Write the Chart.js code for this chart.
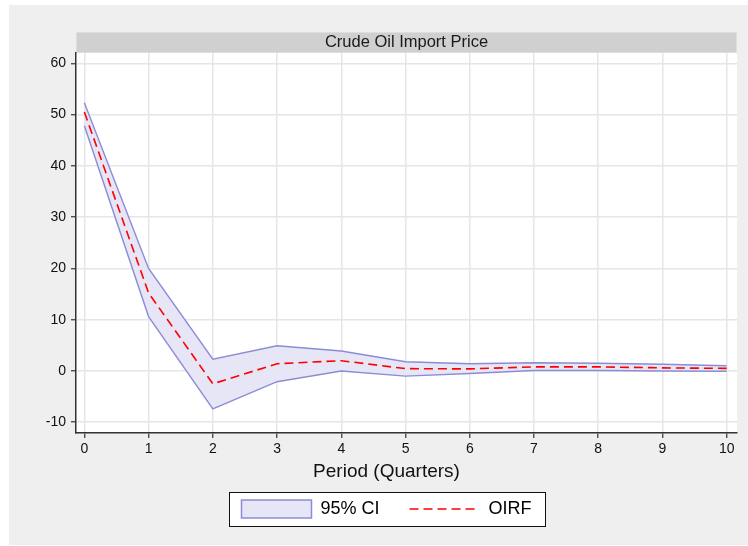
<!DOCTYPE html>
<html>
<head>
<meta charset="utf-8">
<script src="https://cdn.jsdelivr.net/npm/chart.js@4"></script>
<style>
  html, body { margin: 0; padding: 0; background: #fff; }
  #wrap { position: absolute; left: 9px; top: 5px; width: 739px; height: 540px; background: #efefef; }
</style>
</head>
<body>
<div id="wrap"><canvas id="irf" width="739" height="540"></canvas></div>
<script>
// impulse response of crude oil import price, 0..10 quarters
const periods = [0, 1, 2, 3, 4, 5, 6, 7, 8, 9, 10];
const oirf    = [50.5, 15.2, -2.5, 1.4, 2.0, 0.45, 0.4, 0.8, 0.8, 0.6, 0.5];
const ciUpper = [52.3, 20.0, 2.3, 4.9, 3.9, 1.8, 1.4, 1.6, 1.5, 1.3, 1.0];
const ciLower = [47.8, 10.6, -7.4, -2.1, 0.0, -1.0, -0.5, 0.1, 0.1, 0.0, -0.05];
const panelTitle = "Crude Oil Import Price";
const xTitle = "Period (Quarters)";

const FONT = 'Arial, "Liberation Sans", sans-serif';
const ciFill = "rgb(230,230,246)";
const ciLine = "rgb(140,140,212)";
const oirfColor = "#ff0000";

const pts = ys => periods.map((p, i) => ({ x: p, y: ys[i] }));

// white plot area, grey header strip and framed legend
const backdrop = {
  id: "backdrop",
  beforeDraw(chart) {
    const { ctx, chartArea: a } = chart;
    ctx.save();
    ctx.fillStyle = "#fff";
    ctx.fillRect(a.left, a.top, a.right - a.left, a.bottom - a.top);

    ctx.fillStyle = "#d0d0d0";
    ctx.fillRect(a.left, a.top - 21, a.right - a.left, 21);
    ctx.strokeStyle = "#d8e0e0";
    ctx.lineWidth = 1;
    ctx.strokeRect(a.left + 0.5, a.top - 20.5, a.right - a.left - 1, 20);
    ctx.fillStyle = "#1a1a1a";
    ctx.font = "16.5px " + FONT;
    ctx.textAlign = "center";
    ctx.textBaseline = "middle";
    ctx.fillText(panelTitle, (a.left + a.right) / 2, a.top - 10.5);

    const hb = chart.legend && chart.legend.legendHitBoxes;
    if (hb && hb.length) {
      const l = Math.min(...hb.map(h => h.left)) - 12;
      const r = Math.max(...hb.map(h => h.left + h.width)) + 14;
      const cy = hb[0].top + hb[0].height / 2;
      ctx.fillStyle = "#fff";
      ctx.fillRect(l, cy - 17, r - l, 34);
      ctx.strokeStyle = "#111";
      ctx.strokeRect(Math.round(l) + 0.5, Math.round(cy - 17) + 0.5, Math.round(r - l), 34);
    }
    ctx.restore();
  }
};

new Chart(document.getElementById("irf"), {
  type: "line",
  data: {
    datasets: [
      {
        label: "95% CI",
        data: pts(ciUpper),
        borderColor: ciLine,
        backgroundColor: ciFill,
        borderWidth: 1.4,
        pointRadius: 0,
        tension: 0,
        fill: "+1",
        order: 2
      },
      {
        label: "ci-lower",
        data: pts(ciLower),
        borderColor: ciLine,
        backgroundColor: ciFill,
        borderWidth: 1.4,
        pointRadius: 0,
        tension: 0,
        fill: false,
        order: 1
      },
      {
        // drawn last so it sits on top of the band
        label: "OIRF",
        data: pts(oirf),
        borderColor: oirfColor,
        borderWidth: 1.6,
        borderDash: [9, 5],
        pointRadius: 0,
        tension: 0,
        fill: false,
        order: 0
      }
    ]
  },
  options: {
    responsive: false,
    animation: false,
    layout: { padding: { top: 48, left: 27, right: 11, bottom: 17 } },
    plugins: {
      tooltip: { enabled: false },
      // x-axis caption, centred on the whole figure like the legend
      title: {
        display: true,
        position: "bottom",
        weight: 500,
        text: xTitle,
        color: "#111",
        font: { family: FONT, size: 19, weight: "normal" },
        padding: { top: 4, bottom: -13.6 }
      },
      legend: {
        position: "bottom",
        labels: {
          usePointStyle: true,
          pointStyleWidth: 70,
          boxHeight: 18,
          padding: 30,
          color: "#000",
          font: { family: FONT, size: 18 },
          generateLabels: () => [
            { text: "95% CI", fillStyle: ciFill, strokeStyle: ciLine, lineWidth: 1.5,
              pointStyle: "rect", datasetIndex: 0, fontColor: "#000" },
            { text: "OIRF", fillStyle: "rgba(0,0,0,0)", strokeStyle: oirfColor, lineWidth: 1.6,
              lineDash: [9, 5], pointStyle: "line", datasetIndex: 2, fontColor: "#000" }
          ]
        }
      }
    },
    scales: {
      x: {
        type: "linear",
        min: -0.13,
        max: 10.16,
        afterFit: s => { s.height = s.height - 4; },
        border: { color: "#333", width: 1.5 },
        grid: { color: "#e6e6e6", lineWidth: 1.5, tickColor: "#333", tickLength: 5, tickWidth: 1.2 },
        ticks: {
          stepSize: 1,
          includeBounds: false,
          padding: 3,
          color: "#111",
          maxRotation: 0,
          font: { family: FONT, size: 14 }
        }
      },
      y: {
        min: -12.1,
        max: 62,
        afterFit: s => { s.width = 40; },
        border: { color: "#333", width: 1.5 },
        grid: { color: "#e6e6e6", lineWidth: 1.5, tickColor: "#333", tickLength: 5, tickWidth: 1.2 },
        ticks: {
          stepSize: 10,
          includeBounds: false,
          padding: 5,
          color: "#111",
          font: { family: FONT, size: 14 }
        }
      }
    }
  },
  plugins: [backdrop]
});
</script>
</body>
</html>
